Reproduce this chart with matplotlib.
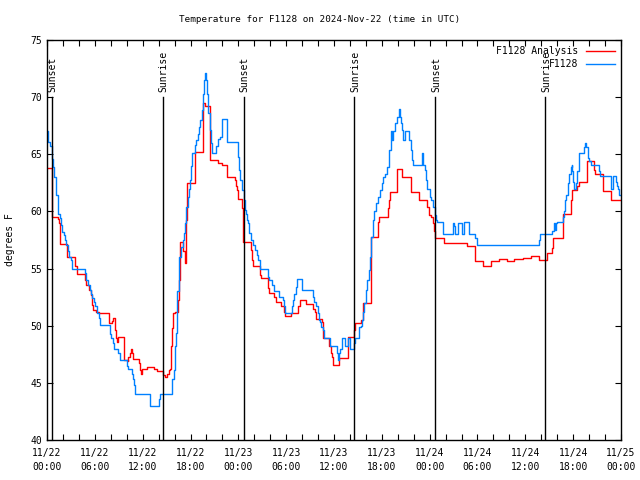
import matplotlib
matplotlib.use("Agg")
import matplotlib.pyplot as plt
import numpy as np

# hours since 11/22 00:00 UTC, values in degrees F (step data)
obs_hours = [0.0, 0.16, 0.41, 0.58, 0.75, 0.92, 1.08, 1.17, 1.33, 1.42, 1.58, 1.75, 1.92, 2.08,
             2.25, 2.42, 2.58, 2.75, 3.0, 3.17, 4.76, 4.93, 5.18, 5.34, 5.51, 5.68, 5.84, 6.02,
             6.27, 6.52, 6.68, 7.85, 8.02, 8.27, 8.44, 8.85, 9.1, 9.98, 10.2, 10.6, 10.8, 10.95,
             11.1, 12.87, 14.04, 14.2, 15.7, 15.88, 16.05, 16.15, 16.25, 16.35, 16.5, 16.8, 17.0,
             17.13, 17.3, 17.47, 17.63, 17.8, 17.97, 18.1, 18.2, 18.56, 18.7, 18.9, 19.05, 19.2,
             19.38, 19.56, 19.65, 19.8, 19.9, 20.06, 20.2, 20.4, 20.56, 20.65, 21.25, 21.45,
             21.65, 21.95, 22.6, 23.9, 24.07, 24.15, 24.4, 24.65, 24.8, 24.9, 25.07, 25.2, 25.4,
             25.65, 25.85, 26.07, 26.3, 26.5, 26.74, 27.66, 27.9, 28.25, 28.5, 29.15, 29.6, 29.75,
             29.9, 30.67, 30.8, 31.0, 31.26, 31.4, 32.0, 33.35, 33.5, 33.76, 33.95, 34.1, 34.25,
             34.43, 34.6, 34.77, 35.5, 36.36, 36.5, 36.62, 36.77, 37.0, 37.4, 37.7, 38.0, 38.5,
             38.65, 39.1, 39.35, 39.5, 39.62, 39.78, 40.0, 40.2, 40.37, 40.53, 40.7, 40.87, 41.04,
             41.3, 41.5, 41.8, 42.04, 42.2, 42.45, 42.6, 42.88, 42.96, 43.1, 43.2, 43.3, 43.4,
             43.6, 43.96, 44.1, 44.25, 44.4, 44.55, 44.7, 44.85, 44.92, 45.38, 45.6, 45.8, 45.96,
             47.05, 47.2, 47.4, 47.55, 47.7, 48.05, 48.2, 48.4, 48.65, 48.8, 48.97, 49.7, 50.98,
             51.1, 51.2, 51.57, 52.0, 52.3, 52.98, 53.7, 53.9, 61.76, 61.9, 63.4, 63.6, 63.75,
             63.85, 64.0, 64.75, 64.85, 65.0, 65.15, 65.36, 65.5, 65.7, 65.8, 65.9, 66.02, 66.15,
             66.3, 66.5, 66.7, 67.35, 67.45, 67.6, 67.86, 67.95, 68.2, 69.25, 69.37, 70.75, 70.8,
             70.95, 71.05, 71.35, 71.55, 71.65, 71.8, 72.0]
obs_temp = [67.0, 66.1, 65.7, 64.6, 63.9, 63.0, 62.3, 61.4, 60.6, 59.8, 59.4, 58.8, 58.2, 57.9,
            57.5, 57.1, 56.5, 56.0, 55.75, 55.0, 54.6, 54.0, 53.6, 53.1, 52.8, 52.4, 52.1, 51.7,
            51.1, 50.7, 50.1, 49.3, 48.9, 48.5, 48.0, 47.6, 47.0, 46.5, 46.2, 45.8, 45.3, 44.8,
            44.0, 43.0, 43.6, 44.0, 45.3, 46.1, 48.2, 49.4, 51.1, 53.0, 56.0, 56.9, 57.5,
            58.1, 59.0, 60.4, 61.3, 62.0, 62.75, 64.0, 65.1, 65.8, 66.25, 66.8, 67.4, 68.0,
            68.9, 70.3, 71.5, 72.1, 71.5, 70.3, 68.6, 67.1, 66.0, 65.1, 65.7, 66.3,
            66.5, 68.1, 66.1, 64.8, 63.6, 62.75, 61.9, 61.0, 60.1, 59.8, 59.25, 59.0, 58.1,
            57.5, 57.06, 56.6, 56.2, 55.75, 55.0, 54.3, 54.0, 53.56, 53.0, 52.5, 52.25, 51.7,
            51.1, 51.7, 52.25, 52.8, 53.4, 54.06, 53.1, 52.5, 52.1, 51.7, 51.1, 50.5, 50.3,
            49.9, 49.6, 48.9, 48.2, 47.6, 47.0, 47.6, 48.0, 48.9, 48.2, 48.9, 48.0, 48.45,
            48.9, 49.9, 50.0, 50.5, 51.2, 52.0, 53.1, 54.0, 54.9, 56.0, 57.8, 59.25, 60.0,
            60.7, 61.3, 61.9, 62.5, 63.0, 63.3, 63.9, 64.9, 65.4, 66.25, 67.0, 66.25, 67.0,
            67.7, 68.3, 69.0, 68.3, 67.7, 67.1, 66.25, 66.8, 67.0, 66.25, 65.4, 64.5, 64.06,
            65.1, 64.06, 63.6, 62.75, 62.0, 61.3, 61.0, 60.4, 59.7, 59.25, 59.1, 58.0, 59.0,
            58.7, 58.0, 59.0, 58.0, 59.05, 58.0, 57.7, 57.06, 57.5, 58.0, 58.3, 59.0, 58.4,
            59.0, 59.1, 59.5, 60.0, 61.0, 61.4, 62.5, 63.3, 63.9, 64.1, 63.5, 62.6, 62.0,
            62.5, 63.5, 65.1, 65.6, 66.0, 65.6, 64.65, 64.4, 64.06, 63.5, 63.1, 62.6, 62.0,
            62.6, 63.1, 62.6, 62.2, 62.0, 61.4, 61.4]

ana_hours = [0.0, 0.58, 0.62, 1.4, 1.5, 1.58, 1.67, 2.5, 3.55, 3.76, 4.76, 4.84, 5.3, 5.51, 5.6,
             5.68, 5.76, 6.2, 6.5, 7.77, 8.1, 8.3, 8.52, 8.69, 8.8, 8.94, 9.6, 9.69, 10.1, 10.2,
             10.36, 10.53, 10.65, 10.78, 11.6, 11.7, 11.78, 11.86, 12.6, 13.45, 13.8, 14.6, 14.8,
             15.1, 15.25, 15.46, 15.55, 15.6, 15.7, 15.8, 16.05, 16.46, 16.55, 16.6, 16.7, 17.05,
             17.3, 17.45, 17.55, 18.56, 19.56, 19.8, 20.5, 21.4, 22.0, 22.6, 23.6, 23.73, 23.8,
             23.9, 24.0, 24.5, 24.6, 24.64, 25.55, 25.75, 25.9, 26.66, 26.83, 27.75, 27.83, 28.5,
             28.7, 29.4, 29.7, 29.83, 30.6, 31.5, 31.7, 32.5, 33.35, 33.6, 33.76, 34.5, 34.68,
             35.4, 35.6, 35.77, 35.86, 36.6, 37.7, 37.8, 38.5, 38.6, 39.4, 39.62, 39.7, 40.6,
             40.7, 41.5, 41.6, 42.75, 42.85, 43.0, 43.88, 44.5, 45.6, 46.7, 47.7, 47.97, 48.2,
             48.47, 48.55, 48.65, 48.7, 49.78, 52.74, 53.74, 54.74, 55.74, 56.67, 57.67, 58.6,
             59.76, 60.68, 61.77, 62.7, 63.35, 63.45, 63.5, 64.77, 65.77, 65.85, 66.44, 66.7,
             67.78, 68.6, 68.78, 69.8, 70.7, 72.0]
ana_temp = [63.8, 61.6, 59.5, 59.3, 59.0, 58.4, 57.15, 56.0, 55.2, 54.5, 54.0, 53.56, 53.1, 52.7, 52.2,
            51.8, 51.4, 51.2, 51.1, 50.2, 50.4, 50.65, 49.6, 48.9, 48.6, 49.0, 47.9, 47.0, 46.9, 47.3,
            47.6, 48.0, 47.6, 47.07, 46.7, 46.1, 45.8, 46.2, 46.4, 46.2, 46.06, 45.7, 45.55,
            45.8, 46.1, 46.2, 46.7, 48.2, 49.8, 51.1, 51.2, 52.25, 53.1, 54.0, 57.3, 56.5,
            55.5, 59.25, 62.5, 65.2, 69.5, 69.2, 64.5, 64.2, 64.06, 63.0, 62.75, 62.2, 61.9,
            61.4, 61.1, 60.3, 58.4, 57.35, 56.6, 55.75, 55.2, 54.4, 54.2, 53.3, 52.9, 52.5,
            52.1, 51.7, 51.2, 50.85, 51.15, 51.7, 52.25, 51.9, 51.5, 51.2, 50.56, 50.3, 48.9,
            48.2, 47.6, 47.3, 46.55, 47.15, 48.0, 49.0, 49.6, 50.2, 50.5, 51.2, 52.0, 56.6,
            57.8, 59.1, 59.5, 60.3, 61.0, 61.7, 63.7, 63.0, 61.7, 61.0, 60.35, 59.7, 59.5,
            59.0, 58.3, 57.8, 57.65, 57.2, 57.0, 55.65, 55.2, 55.65, 55.8, 55.65, 55.8,
            55.9, 56.1, 55.75, 56.4, 56.8, 57.06, 57.7, 59.8, 61.0, 61.9, 62.2, 62.6,
            64.4, 63.6, 63.3, 61.8, 61.0, 61.0]

sun_hours = [0.63, 14.49, 24.65, 38.57, 48.72, 62.51]
sun_labels = ["Sunset", "Sunrise", "Sunset", "Sunrise", "Sunset", "Sunrise"]

tick_hours = list(range(0, 73, 6))
tick_labels = ["11/22\n00:00", "11/22\n06:00", "11/22\n12:00", "11/22\n18:00",
               "11/23\n00:00", "11/23\n06:00", "11/23\n12:00", "11/23\n18:00",
               "11/24\n00:00", "11/24\n06:00", "11/24\n12:00", "11/24\n18:00",
               "11/25\n00:00"]

plt.rcParams['font.family'] = ['DejaVu Sans Mono']
fig = plt.figure(figsize=(6.4, 4.8), dpi=100)
ax = fig.add_axes([47/640, 40/480, 574/640, 400/480])

ax.plot(ana_hours, ana_temp, drawstyle='steps-post', color='#ff0000', lw=1.0, label='F1128 Analysis')
ax.plot(obs_hours, obs_temp, drawstyle='steps-post', color='#0080ff', lw=1.0, label='F1128')

for h, lab in zip(sun_hours, sun_labels):
    ax.plot([h, h], [40, 70], color='black', lw=1.0)
    ax.text(h + 0.1, 70.45, lab, rotation=90, ha='center', va='bottom', fontsize=7)

ax.set_xlim(0, 72)
ax.set_ylim(40, 75)
ax.set_xticks(tick_hours)
ax.set_xticklabels(tick_labels, linespacing=1.45)
ax.set_xticks(range(0, 73, 2), minor=True)
ax.set_yticks(range(40, 76, 5))
ax.tick_params(which='both', direction='in', length=4, width=0.8, top=True, right=True, labelsize=7)
ax.tick_params(axis='x', pad=6)
for s in ax.spines.values():
    s.set_linewidth(1.0)

ax.set_ylabel('degrees F', fontsize=7)
ax.yaxis.set_label_coords(-0.055, 0.5)
fig.text(0.5, 1 - 19/480, 'Temperature for F1128 on 2024-Nov-22 (time in UTC)', ha='center', va='center', fontsize=6.7)

leg = ax.legend(loc='upper right', frameon=False, fontsize=7, markerfirst=False,
                handlelength=2.9, handletextpad=0.8, borderaxespad=0.25, labelspacing=0.3)

fig.savefig('out.png', dpi=100)
